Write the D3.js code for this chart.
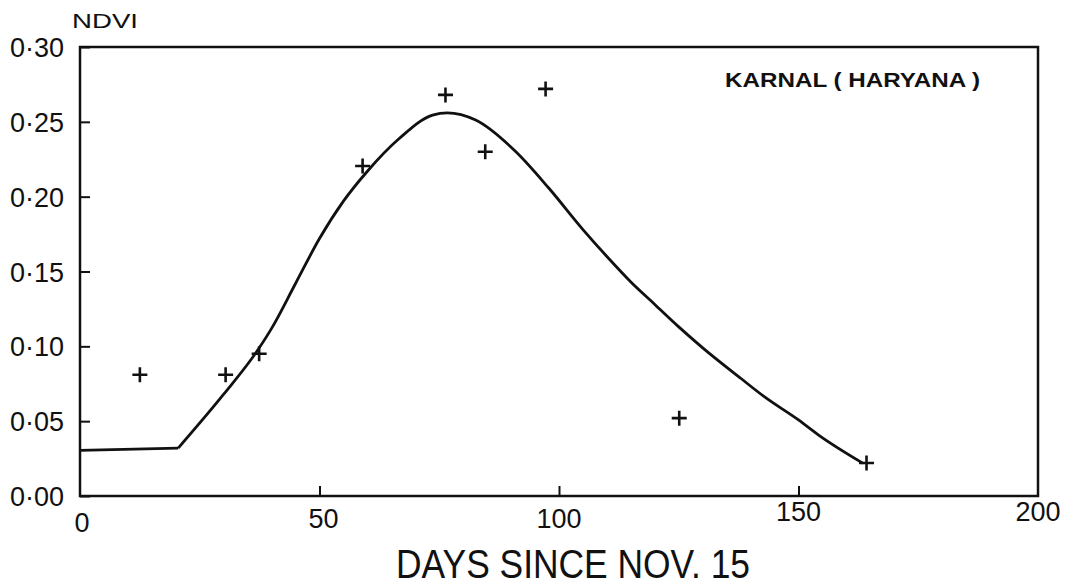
<!DOCTYPE html>
<html><head><meta charset="utf-8">
<script src="https://cdn.jsdelivr.net/npm/d3@7"></script>
<style>body{margin:0;background:#fff}svg{display:block}text{font-family:"Liberation Sans",Arial,sans-serif;fill:#111}</style>
</head><body>
<script>
const xTicks=[0,50,100,150,200];
const yTicks=[0,0.05,0.10,0.15,0.20,0.25,0.30];
const yTickLabels=["0·00","0·05","0·10","0·15","0·20","0·25","0·30"];
const obsDay=[12.5,30.4,37.4,59,76.3,84.6,97.2,125.1,164.2];
const obsNdvi=[0.081,0.081,0.095,0.2205,0.268,0.230,0.272,0.052,0.022];
const flatDay=[0,20.5];
const flatNdvi=[0.0305,0.032];
const fitDay=[20.5,30,37,40,45,50,55,60,66.7,73.6,76.7,82.6,91,97.9,105,110,115,120,125,130,138,143,150,154.2,163.5];
const fitNdvi=[0.032,0.068,0.097,0.112,0.142,0.172,0.197,0.217,0.239,0.2545,0.256,0.2512,0.230,0.2056,0.178,0.160,0.143,0.128,0.113,0.099,0.0785,0.066,0.0508,0.0407,0.0218];

const W=1079,H=587;
const svg=d3.select("body").append("svg").attr("width",W).attr("height",H);
const x=d3.scaleLinear().domain([0,200]).range([80,1038]);
const y=d3.scaleLinear().domain([0,0.30]).range([496,47]);

// frame
svg.append("rect").attr("x",x(0)).attr("y",y(0.30)).attr("width",x(200)-x(0)).attr("height",y(0)-y(0.30))
  .attr("fill","none").attr("stroke","#111").attr("stroke-width",2.5);

// y axis ticks (inward)
const ya=d3.axisRight(y).tickValues(yTicks).tickSize(10).tickFormat("");
svg.append("g").attr("transform",`translate(${x(0)},0)`).call(ya).call(g=>{g.select(".domain").remove();g.selectAll("line").attr("stroke","#111").attr("stroke-width",2);});
svg.append("g").selectAll("text").data(yTicks).join("text")
  .attr("x",64).attr("y",d=>y(d)+10).attr("text-anchor","end").attr("font-size",27).text((d,i)=>yTickLabels[i]);

// x axis ticks (inward)
const xa=d3.axisTop(x).tickValues(xTicks.slice(1,4)).tickSize(10).tickFormat("");
svg.append("g").attr("transform",`translate(0,${y(0)})`).call(xa).call(g=>{g.select(".domain").remove();g.selectAll("line").attr("stroke","#111").attr("stroke-width",2);});
svg.append("g").selectAll("text").data(xTicks).join("text")
  .attr("x",d=>x(d)+(d===0?2:d===50?4:0)).attr("y",d=>d===0?532:d>=150?521:528).attr("text-anchor","middle").attr("font-size",27).text(d=>d);

// fit curve: flat baseline then smooth rise and fall
const line=d3.line().x(d=>x(d[0])).y(d=>y(d[1]));
svg.append("path").datum(flatDay.map((d,i)=>[d,flatNdvi[i]])).attr("fill","none").attr("stroke","#111").attr("stroke-width",2.8)
  .attr("d",line);
svg.append("path").datum(fitDay.map((d,i)=>[d,fitNdvi[i]])).attr("fill","none").attr("stroke","#111").attr("stroke-width",2.8)
  .attr("d",line.curve(d3.curveMonotoneX));

// crosses
const obs=obsDay.map((d,i)=>[d,obsNdvi[i]]);
svg.append("g").selectAll("path").data(obs).join("path")
  .attr("transform",d=>`translate(${x(d[0])},${y(d[1])})`)
  .attr("d",d3.symbol().type({draw(ctx){const r=7.5;ctx.moveTo(-r,0);ctx.lineTo(r,0);ctx.moveTo(0,-r);ctx.lineTo(0,r);}}).size(1))
  .attr("fill","none").attr("stroke","#111").attr("stroke-width",2.6);

// labels
svg.append("text").attr("x",72).attr("y",28).attr("font-size",21).attr("textLength",66).attr("lengthAdjust","spacingAndGlyphs").text("NDVI");
svg.append("text").attr("x",725).attr("y",87).attr("font-size",21).attr("font-weight","bold").attr("textLength",255).attr("lengthAdjust","spacingAndGlyphs").text("KARNAL ( HARYANA )");
svg.append("text").attr("x",396).attr("y",578).attr("font-size",40).attr("textLength",354).attr("lengthAdjust","spacingAndGlyphs").text("DAYS  SINCE  NOV. 15");
</script>
</body></html>
